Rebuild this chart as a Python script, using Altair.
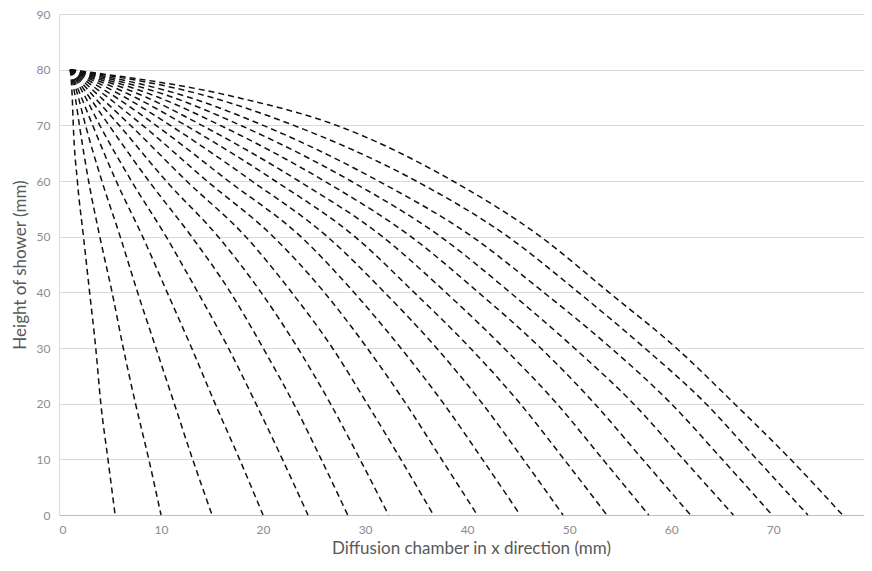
import altair as alt
import pandas as pd

# y levels at which each curve's x position was read
y_levels = [80, 75, 70, 60, 50, 40, 30, 20, 10, 0]

# x positions (mm) of each dashed trajectory at the y levels above
curves = [
    [1.1, 1.3, 1.4, 1.8, 2.4, 3.0, 3.6, 4.1, 4.8, 5.5],
    [1.1, 1.6, 2.0, 2.9, 4.0, 5.2, 6.3, 7.5, 8.8, 10.0],
    [1.1, 1.9, 2.6, 4.2, 6.0, 7.7, 9.5, 11.3, 13.1, 15.0],
    [1.1, 2.2, 3.3, 5.6, 8.2, 10.6, 13.0, 15.3, 17.7, 20.0],
    [1.1, 2.6, 4.0, 7.1, 10.5, 13.6, 16.6, 19.3, 21.9, 24.4],
    [1.1, 3.0, 4.9, 8.8, 13.0, 16.8, 20.0, 23.0, 25.7, 28.3],
    [1.1, 3.5, 5.9, 10.5, 15.6, 19.8, 23.4, 26.6, 29.5, 32.3],
    [1.1, 4.1, 7.0, 12.5, 18.3, 22.8, 26.8, 30.2, 33.5, 36.7],
    [1.1, 4.8, 8.2, 14.5, 21.0, 26.0, 30.2, 34.0, 37.5, 41.0],
    [1.1, 5.6, 9.5, 16.6, 23.7, 28.9, 33.5, 37.7, 41.5, 45.2],
    [1.1, 6.5, 10.9, 18.9, 26.3, 31.9, 37.0, 41.5, 45.5, 49.4],
    [1.1, 7.5, 12.4, 21.2, 29.0, 34.8, 40.3, 45.2, 49.5, 53.7],
    [1.1, 8.6, 14.0, 23.5, 31.7, 37.9, 43.6, 48.8, 53.3, 57.8],
    [1.1, 9.8, 15.8, 26.0, 34.5, 41.1, 47.2, 52.5, 57.2, 61.9],
    [1.1, 11.2, 17.8, 28.6, 37.4, 44.2, 50.5, 56.3, 61.2, 66.1],
    [1.1, 12.8, 20.0, 31.3, 40.5, 47.5, 54.1, 60.0, 65.0, 69.9],
    [1.1, 15.0, 23.0, 35.0, 44.0, 50.9, 57.4, 63.4, 68.4, 73.4],
    [1.1, 17.5, 27.2, 38.6, 47.2, 53.9, 60.5, 66.2, 71.7, 76.8],
]

x_ticks = [0, 10, 20, 30, 40, 50, 60, 70]
y_ticks = [0, 10, 20, 30, 40, 50, 60, 70, 80, 90]

rows = []
for i, xs in enumerate(curves):
    for k, (xv, yv) in enumerate(zip(xs, y_levels)):
        rows.append({"curve": i, "k": k, "x": xv, "y": yv})
df = pd.DataFrame(rows)

FONT = "Lato"
LABEL_COLOR = "#8c8c8c"
TITLE_COLOR = "#595959"

chart = (
    alt.Chart(df)
    .mark_line(
        color="#111111",
        strokeWidth=1.5,
        strokeDash=[6, 4],
        interpolate="monotone",
    )
    .encode(
        x=alt.X(
            "x:Q",
            scale=alt.Scale(domain=[0, 78.9], nice=False, zero=False),
            axis=alt.Axis(
                title="Diffusion chamber in x direction (mm)",
                values=x_ticks,
                grid=False,
                ticks=False,
                domainColor="#bfbfbf",
                labelPadding=9,
                titlePadding=5,
                titleX=412,
            ),
        ),
        y=alt.Y(
            "y:Q",
            scale=alt.Scale(domain=[0, 90], nice=False),
            axis=alt.Axis(
                title="Height of shower (mm)",
                values=y_ticks,
                grid=True,
                ticks=False,
                domainColor="#d9d9d9",
                gridColor="#d9d9d9",
                labelPadding=9,
                titlePadding=7,
            ),
        ),
        detail="curve:N",
        order="k:Q",
    )
    .properties(
        width=805,
        height=501,
        autosize=alt.AutoSizeParams(type="none"),
        padding={"left": 51, "top": 6, "right": 0, "bottom": 44},
    )
    .configure_view(stroke=None)
    .configure_axis(
        labelFont=FONT,
        labelFontSize=12,
        labelColor=LABEL_COLOR,
        titleFont=FONT,
        titleFontSize=17,
        titleFontWeight="normal",
        titleColor=TITLE_COLOR,
    )
)

chart.save("out.html", embed_options={"renderer": "svg", "actions": False})
